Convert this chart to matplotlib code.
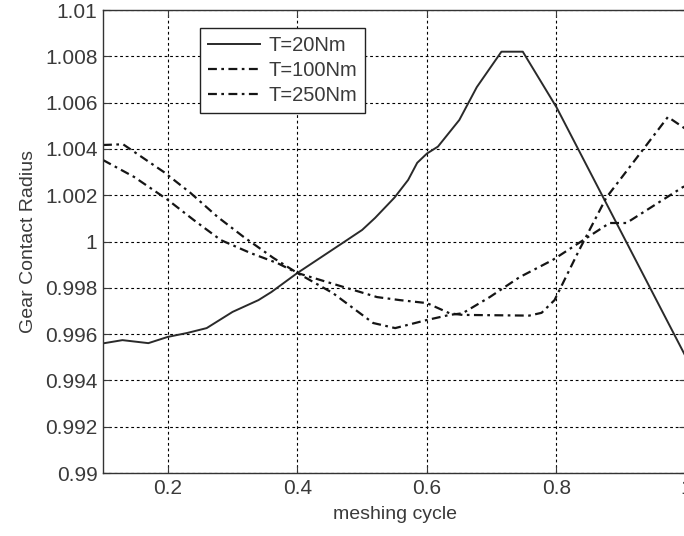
import numpy as np
import matplotlib
matplotlib.use('Agg')
import matplotlib.pyplot as plt

# contact radius over one meshing cycle for three load levels
x_20 = [0.10, 0.13, 0.17, 0.20, 0.23, 0.26, 0.30, 0.34, 0.36, 0.40, 0.47, 0.50,
        0.52, 0.55, 0.571, 0.585, 0.60, 0.617, 0.65, 0.677, 0.715, 0.748, 0.80, 1.0]
r_20 = [0.9956, 0.99574, 0.99561, 0.99588, 0.99605, 0.99626, 0.99696, 0.99747,
        0.99782, 0.99864, 0.99994, 1.0005, 1.00102, 1.0019, 1.00266, 1.0034,
        1.0038, 1.0041, 1.00525, 1.00667, 1.0082, 1.0082, 1.0058, 0.9950]

x_100 = [0.10, 0.148, 0.20, 0.24, 0.282, 0.328, 0.369, 0.40, 0.44, 0.523, 0.558,
         0.60, 0.635, 0.655, 0.758, 0.777, 0.797, 0.835, 0.877, 0.972, 1.0]
r_100 = [1.00352, 1.00279, 1.0018, 1.00093, 1.00006, 0.9995, 0.99907, 0.99864,
         0.9983, 0.9976, 0.99747, 0.99734, 0.9969, 0.99683, 0.9968, 0.99692,
         0.99747, 0.99963, 1.0019, 1.00538, 1.00485]

x_250 = [0.10, 0.131, 0.194, 0.235, 0.277, 0.317, 0.363, 0.40, 0.455, 0.517,
         0.551, 0.60, 0.635, 0.655, 0.697, 0.743, 0.794, 0.882, 0.908, 0.995, 1.0]
r_250 = [1.00417, 1.0042, 1.0030, 1.0021, 1.00106, 1.0002, 0.99929, 0.99864,
         0.99777, 0.99648, 0.99626, 0.99661, 0.99683, 0.9969, 0.9976, 0.99846,
         0.9992, 1.0008, 1.0008, 1.00235, 1.0024]

labels = ['T=20Nm', 'T=100Nm', 'T=250Nm']
xticks = [0.2, 0.4, 0.6, 0.8, 1.0]
xticklabels = ['0.2', '0.4', '0.6', '0.8', '1']
yticks = [0.99, 0.992, 0.994, 0.996, 0.998, 1.0, 1.002, 1.004, 1.006, 1.008, 1.01]
yticklabels = ['0.99', '0.992', '0.994', '0.996', '0.998', '1', '1.002',
               '1.004', '1.006', '1.008', '1.01']

plt.rcParams['font.family'] = ['Liberation Sans', 'DejaVu Sans']
txt = '#3a3a3a'

fig = plt.figure(figsize=(6.84, 5.36), dpi=100)
ax = fig.add_axes([0.1506, 0.1175, 0.8524, 0.8638])

dashdot = (0, (4, 2, 1.2, 2))
ax.plot(x_20, r_20, '-', color='#2a2a2a', lw=1.4, label=labels[0])
ax.plot(x_100, r_100, linestyle=dashdot, color='#151515', lw=1.6, label=labels[1])
ax.plot(x_250, r_250, linestyle=dashdot, color='#151515', lw=1.6, label=labels[2])

ax.set_xlim(0.1, 1.0)
ax.set_ylim(0.99, 1.01)
ax.set_xticks(xticks)
ax.set_xticklabels(xticklabels)
ax.set_yticks(yticks)
ax.set_yticklabels(yticklabels)

ax.grid(True, color='black', linestyle=(0, (2.5, 2.5)), lw=0.8)
ax.tick_params(direction='in', length=5, width=0.8, top=True, right=True,
               labelsize=15, colors=txt, pad=4)
for s in ax.spines.values():
    s.set_color('#333333')
    s.set_linewidth(1.0)

ax.set_xlabel('meshing cycle', fontsize=14, color=txt, labelpad=6)
ax.set_ylabel('Gear Contact Radius', fontsize=14, color=txt, labelpad=6)

leg = ax.legend(loc='upper left', bbox_to_anchor=(0.166, 0.961), borderaxespad=0,
                fancybox=False, framealpha=1, edgecolor='#222222', fontsize=14.5,
                handlelength=2.6, labelspacing=0.3, borderpad=0.4,
                handletextpad=0.4)
leg.get_frame().set_linewidth(1.0)
for t in leg.get_texts():
    t.set_color(txt)

fig.savefig('out.png', dpi=100)
